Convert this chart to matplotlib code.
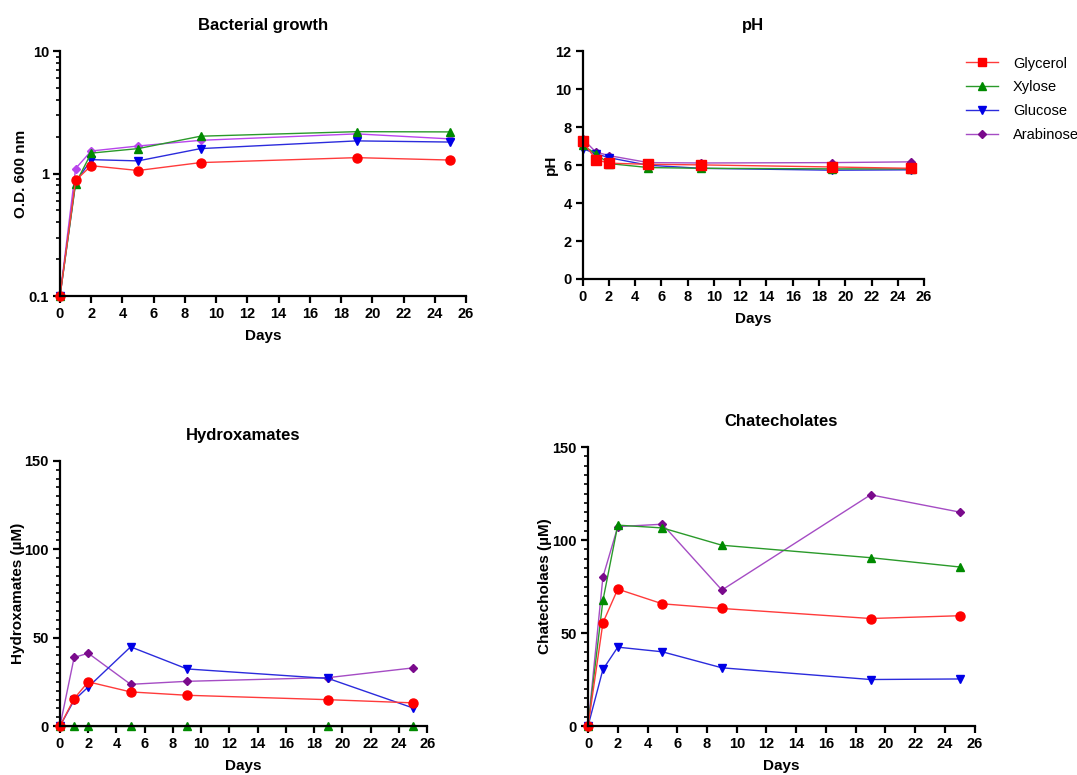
import matplotlib
matplotlib.use("Agg")
import matplotlib.pyplot as plt
from matplotlib.ticker import AutoMinorLocator, LogLocator, NullFormatter, FixedLocator
from matplotlib.lines import Line2D

plt.rcParams["font.family"] = ["Liberation Sans", "DejaVu Sans"]

days = [0, 1, 2, 5, 9, 19, 25]
sources = ["Glycerol", "Xylose", "Glucose", "Arabinose"]

# optical density at 600 nm
od_glycerol = [0.1, 0.88, 1.16, 1.06, 1.23, 1.35, 1.29]
od_xylose = [0.1, 0.83, 1.47, 1.60, 2.02, 2.20, 2.19]
od_glucose = [0.1, 0.85, 1.30, 1.27, 1.60, 1.85, 1.81]
od_arabinose = [0.1, 1.10, 1.53, 1.68, 1.87, 2.11, 1.92]

# medium pH
ph_glycerol = [7.27, 6.29, 6.10, 6.04, 6.01, 5.90, 5.83]
ph_xylose = [7.04, 6.60, 6.08, 5.87, 5.83, 5.80, 5.80]
ph_glucose = [6.87, 6.60, 6.39, 5.99, 5.83, 5.73, 5.75]
ph_arabinose = [7.39, 6.69, 6.50, 6.13, 6.11, 6.13, 6.17]

# hydroxamate siderophores (uM)
hx_glycerol = [0, 15.5, 25.0, 19.3, 17.4, 14.9, 13.1]
hx_xylose = [0, 0, 0, 0, 0, 0, 0]
hx_glucose = [0, 14.6, 22.1, 44.8, 32.3, 26.9, 10.2]
hx_arabinose = [0, 38.8, 41.2, 23.6, 25.3, 27.4, 32.9]

# catecholate siderophores (uM)
ct_glycerol = [0, 55.5, 73.6, 65.7, 63.2, 57.8, 59.3]
ct_xylose = [0, 67.5, 108.0, 106.5, 97.2, 90.5, 85.5]
ct_glucose = [0, 30.4, 42.4, 39.9, 31.3, 25.0, 25.3]
ct_arabinose = [0, 80.1, 107.2, 108.5, 73.1, 124.3, 115.0]

marker_col = {"Glycerol": "#ff0000", "Xylose": "#008a00", "Glucose": "#0000e6", "Arabinose": "#7a0a8c"}
line_col = {"Glycerol": "#ff3b3b", "Xylose": "#2a9a2a", "Glucose": "#2b2bdc", "Arabinose": "#a54cc4"}
markers = {"Glycerol": "o", "Xylose": "^", "Glucose": "v", "Arabinose": "D"}
msize = {"Glycerol": 6.5, "Xylose": 6, "Glucose": 6, "Arabinose": 4.5}

fig = plt.figure(figsize=(10.77, 7.75), dpi=100)

ax_od = fig.add_axes([0.0557, 0.618, 0.377, 0.316])
ax_ph = fig.add_axes([0.541, 0.640, 0.317, 0.294])
ax_hx = fig.add_axes([0.0557, 0.0632, 0.341, 0.342])
ax_ct = fig.add_axes([0.546, 0.0632, 0.359, 0.360])


def draw(ax, series, glycerol_marker="o", arab_color=None):
    # draw in reverse so glycerol ends up on top
    for name in reversed(sources):
        m = markers[name]
        if name == "Glycerol":
            m = glycerol_marker
        lc = line_col[name]
        mc = marker_col[name]
        if name == "Arabinose" and arab_color is not None:
            lc = arab_color
            mc = arab_color
        ax.plot(days, series[name], color=lc, linewidth=1.0, marker=m,
                markersize=msize[name], markerfacecolor=mc, markeredgecolor=mc,
                clip_on=False, label=name)


def style(ax, title, ylabel, ylab_x):
    for s in ["top", "right"]:
        ax.spines[s].set_visible(False)
    for s in ["left", "bottom"]:
        ax.spines[s].set_linewidth(1.6)
    ax.set_xlim(0, 26)
    ax.set_xticks(range(0, 27, 2))
    ax.tick_params(axis="both", which="major", length=5, width=1.6, labelsize=10.5, pad=3)
    ax.tick_params(axis="both", which="minor", length=3, width=1.2)
    for lab in ax.get_xticklabels() + ax.get_yticklabels():
        lab.set_fontweight("bold")
    ax.set_title(title, fontsize=12, fontweight="bold", pad=15)
    ax.set_xlabel("Days", fontsize=11, fontweight="bold", labelpad=6)
    ax.set_ylabel(ylabel, fontsize=11, fontweight="bold")
    ax.yaxis.set_label_coords(ylab_x, 0.5)


# Bacterial growth
draw(ax_od, {"Glycerol": od_glycerol, "Xylose": od_xylose,
             "Glucose": od_glucose, "Arabinose": od_arabinose},
     arab_color="#b845ec")
ax_od.set_yscale("log")
ax_od.set_ylim(0.1, 10)
ax_od.yaxis.set_major_locator(FixedLocator([0.1, 1, 10]))
ax_od.yaxis.set_minor_locator(LogLocator(base=10, subs=range(2, 10)))
ax_od.yaxis.set_minor_formatter(NullFormatter())
ax_od.set_yticklabels(["0.1", "1", "10"])
style(ax_od, "Bacterial growth", "O.D. 600 nm", -0.079)

# pH
draw(ax_ph, {"Glycerol": ph_glycerol, "Xylose": ph_xylose,
             "Glucose": ph_glucose, "Arabinose": ph_arabinose},
     glycerol_marker="s")
ax_ph.set_ylim(0, 12)
ax_ph.set_yticks(range(0, 13, 2))
style(ax_ph, "pH", "pH", -0.071)

# Hydroxamates
draw(ax_hx, {"Glycerol": hx_glycerol, "Xylose": hx_xylose,
             "Glucose": hx_glucose, "Arabinose": hx_arabinose})
ax_hx.set_ylim(0, 150)
ax_hx.set_yticks([0, 50, 100, 150])
ax_hx.yaxis.set_minor_locator(AutoMinorLocator(10))
style(ax_hx, "Hydroxamates", "Hydroxamates (µM)", -0.0955)

# Catecholates
draw(ax_ct, {"Glycerol": ct_glycerol, "Xylose": ct_xylose,
             "Glucose": ct_glucose, "Arabinose": ct_arabinose})
ax_ct.set_ylim(0, 150)
ax_ct.set_yticks([0, 50, 100, 150])
ax_ct.yaxis.set_minor_locator(AutoMinorLocator(10))
style(ax_ct, "Chatecholates", "Chatecholaes (µM)", -0.093)

# shared legend beside the pH panel
handles = []
for name in sources:
    m = "s" if name == "Glycerol" else markers[name]
    handles.append(Line2D([0], [0], color=line_col[name], linewidth=1.0, marker=m,
                          markersize=msize[name] if name != "Glycerol" else 6,
                          markerfacecolor=marker_col[name], markeredgecolor=marker_col[name]))
fig.legend(handles, sources, loc="upper left", bbox_to_anchor=(0.885, 0.944),
           frameon=False, fontsize=10.5, handlelength=2.2, labelspacing=0.68,
           handletextpad=1.0)

fig.savefig("out.png", dpi=100)
